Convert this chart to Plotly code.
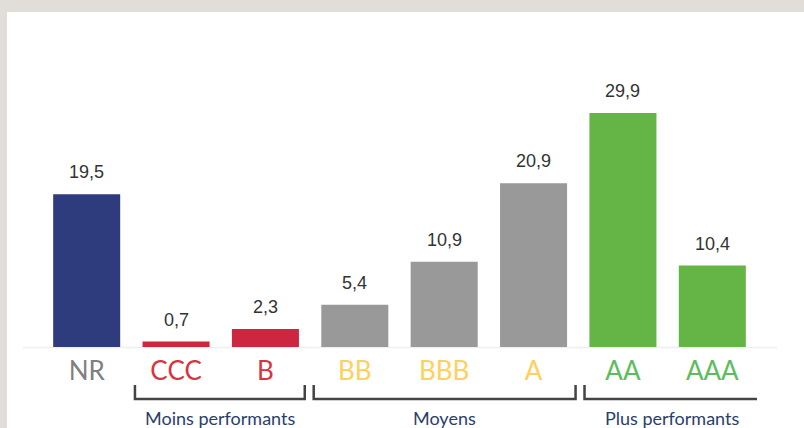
import plotly.graph_objects as go

categories = ["NR", "CCC", "B", "BB", "BBB", "A", "AA", "AAA"]
values = [19.5, 0.7, 2.3, 5.4, 10.9, 20.9, 29.9, 10.4]
bar_colors = ["#2e3c7e", "#cc2640", "#cc2640", "#999999", "#999999", "#999999", "#64b446", "#64b446"]
label_colors = ["#7f7f7f", "#d8333f", "#d8333f", "#ffd05c", "#ffd05c", "#ffd05c", "#5cbd5f", "#5cbd5f"]
groups = ["Moins performants", "Moyens", "Plus performants"]
group_spans = [(1, 2), (3, 5), (6, 7)]

W, H = 804, 428
ML, MR, MT, MB = 42, 47, 50, 81
plot_h = H - MT - MB
px_per_unit = 7.83
ymax = plot_h / px_per_unit

def py(pix):
    # pixel row -> paper y
    return (H - MB - pix) / plot_h

def px(pix):
    return (pix - ML) / (W - ML - MR)

fig = go.Figure()
fig.add_trace(go.Bar(
    x=list(range(len(categories))), y=values,
    marker=dict(color=bar_colors, line=dict(width=0)),
    width=0.75, hoverinfo="skip",
))

# value labels
for i, v in enumerate(values):
    fig.add_annotation(
        x=i, y=v, xref="x", yref="y", text=f"{v:.1f}".replace(".", ","),
        showarrow=False, yanchor="bottom", yshift=10,
        font=dict(family="Liberation Sans, Arial", size=18, color="#333333"),
    )

shapes = []
# beige frame
shapes.append(dict(type="rect", xref="paper", yref="paper", x0=px(-5), x1=px(W + 5), y0=py(H + 5), y1=py(-5),
                   fillcolor="#e1ddd9", line=dict(width=0), layer="below"))
shapes.append(dict(type="rect", xref="paper", yref="paper", x0=px(7), x1=px(W + 5), y0=py(H + 5), y1=py(12),
                   fillcolor="#ffffff", line=dict(width=0), layer="below"))
# baseline
shapes.append(dict(type="line", xref="paper", yref="paper", x0=px(23), x1=px(777), y0=py(347.5), y1=py(347.5),
                   line=dict(color="#eeeeee", width=1.5), layer="below"))

# brackets
bt, bb = py(385), py(399)
bracket_pad = [(-0.46, 0.44), (-0.46, 0.47), (-0.43, 0.52)]
for (a, b), (pa, pb), g in zip(group_spans, bracket_pad, groups):
    x0, x1 = a + pa, b + pb
    shapes.append(dict(type="path", xref="x", yref="paper",
                       path=f"M {x0},{bt} L {x0},{bb} L {x1},{bb} L {x1},{bt}",
                       line=dict(color="#444444", width=2.5)))
    fig.add_annotation(x=(x0 + x1) / 2, y=py(418), xref="x", yref="paper", text=g, showarrow=False,
                       yanchor="middle", font=dict(family="Lato", size=18, color="#2b3e6b"))

ticktext = [f'<span style="color:{c}">{t}</span>' for t, c in zip(categories, label_colors)]

fig.update_layout(
    width=W, height=H,
    margin=dict(l=ML, r=MR, t=MT, b=MB),
    paper_bgcolor="#e1ddd9", plot_bgcolor="rgba(0,0,0,0)",
    showlegend=False, shapes=shapes, bargap=0.25,
    xaxis=dict(tickmode="array", tickvals=list(range(len(categories))), ticktext=ticktext,
               range=[-0.5, len(categories) - 0.5], showgrid=False, zeroline=False, showline=False,
               ticks="", ticklabelstandoff=6,
               tickfont=dict(family="Lato", size=26)),
    yaxis=dict(range=[0, ymax], visible=False, showgrid=False, zeroline=False),
)

fig.write_html("out.html", config={"displayModeBar": False},
               post_script="document.body.style.margin='0';document.body.style.overflow='hidden';")
